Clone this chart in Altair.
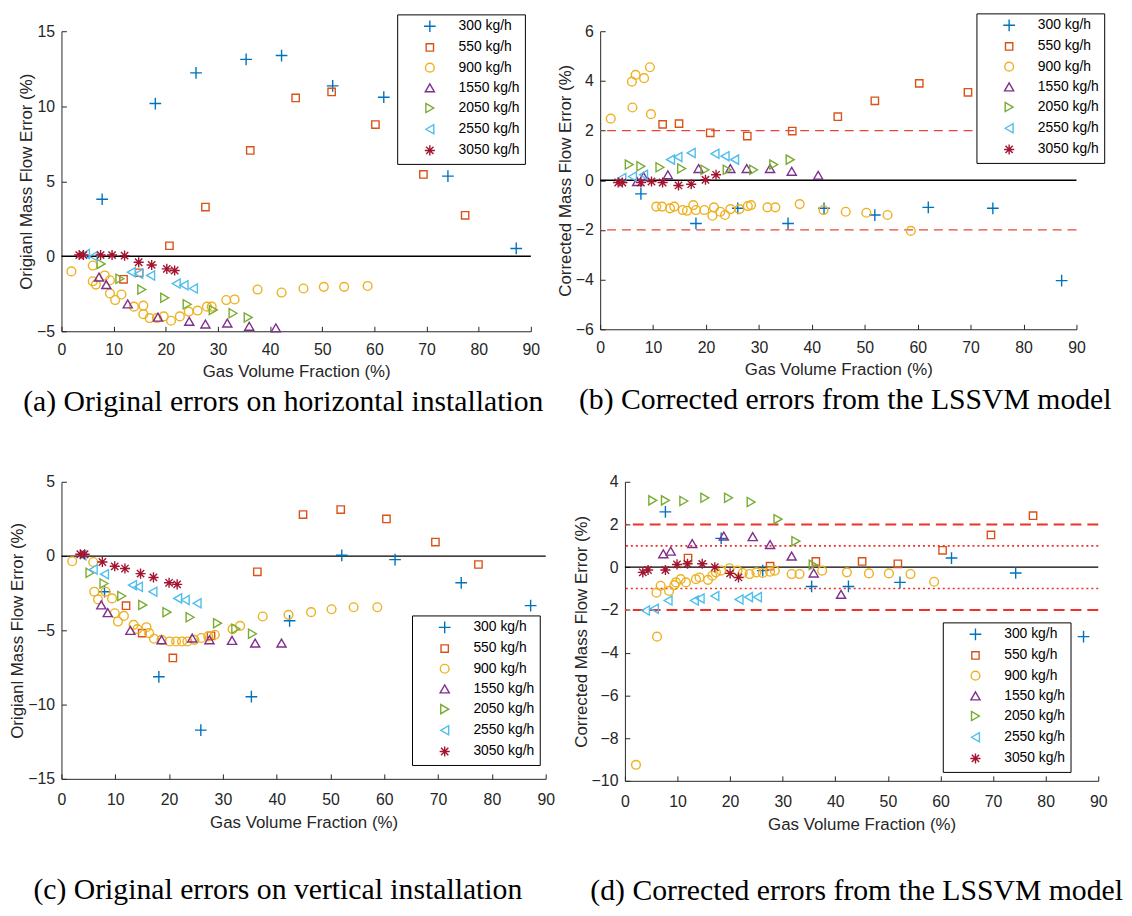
import altair as alt
import pandas as pd

# ---------------- series definitions ----------------
SERIES = ["300 kg/h", "550 kg/h", "900 kg/h", "1550 kg/h", "2050 kg/h", "2550 kg/h", "3050 kg/h"]
COLORS = ["#0072BD", "#D95319", "#EDB120", "#7E2F8E", "#77AC30", "#4DBEEE", "#A2142F"]
PLUS = "M-1,0L1,0M0,-1L0,1"
STAR = "M-1,0L1,0M0,-1L0,1M-0.72,-0.72L0.72,0.72M-0.72,0.72L0.72,-0.72"
SHAPES = [PLUS, "square", "circle", "triangle-up", "triangle-right", "triangle-left", STAR]
SIZES = [140, 55, 78, 85, 85, 85, 105]
XTICKS = [0, 10, 20, 30, 40, 50, 60, 70, 80, 90]

# ---------------- (a) original errors, horizontal ----------------
A300_X = [7.8, 18.0, 25.8, 35.4, 42.2, 52.0, 61.8, 74.1, 87.2]
A300_Y = [3.8, 10.18, 12.22, 13.12, 13.38, 11.36, 10.6, 5.34, 0.52]
A550_X = [11.9, 14.9, 20.7, 27.6, 36.2, 44.9, 51.8, 60.2, 69.4, 77.4]
A550_Y = [-1.54, -1.1, 0.70, 3.28, 7.05, 10.55, 10.95, 8.78, 5.45, 2.73]
A900_X = [1.9, 6.0, 6.0, 6.6, 8.3, 9.3, 9.3, 10.3, 11.5, 13.9, 15.7, 15.7, 16.9, 18.3, 19.6,
          21.0, 22.7, 24.4, 26.1, 27.9, 28.8, 31.6, 33.2, 37.6, 42.2, 46.4, 50.3, 54.2, 58.7]
A900_Y = [-1.01, -0.62, -1.67, -1.89, -1.28, -1.6, -2.48, -2.92, -2.55, -3.36, -3.29, -3.86, -4.12, -4.12, -4.01,
          -4.30, -4.01, -3.69, -3.62, -3.36, -3.36, -2.92, -2.88, -2.22, -2.42, -2.15, -2.04, -2.04, -1.98]
A1550_X = [7.2, 8.6, 12.7, 18.5, 24.5, 27.6, 31.8, 36.0, 41.1]
A1550_Y = [-1.39, -1.89, -3.18, -4.06, -4.34, -4.52, -4.45, -4.67, -4.78]
A2050_X = [7.6, 11.2, 15.4, 19.8, 24.1, 29.1, 32.9, 35.8]
A2050_Y = [-0.51, -1.50, -2.22, -2.77, -3.20, -3.58, -3.80, -4.08]
A2550_X = [4.6, 6.1, 13.4, 14.8, 17.1, 22.0, 23.5, 25.3]
A2550_Y = [0.15, 0.0, -1.06, -1.17, -1.28, -1.82, -1.93, -2.15]
A3050_X = [3.4, 4.2, 7.5, 9.7, 12.1, 14.8, 17.3, 20.2, 21.7]
A3050_Y = [0.08, 0.08, 0.08, 0.08, 0.04, -0.40, -0.58, -0.84, -0.95]

# ---------------- (b) corrected errors, horizontal ----------------
B300_X = [7.7, 18.1, 26.0, 35.5, 42.3, 51.9, 62.0, 74.2, 87.2]
B300_Y = [-0.55, -1.74, -1.13, -1.74, -1.13, -1.40, -1.09, -1.13, -4.04]
B550_X = [11.8, 14.9, 20.8, 27.8, 36.3, 44.9, 51.9, 60.3, 69.5, 77.7]
B550_Y = [2.25, 2.28, 1.91, 1.78, 1.98, 2.56, 3.20, 3.90, 3.54, 0.93]
B900_X = [2.0, 6.0, 6.1, 6.7, 8.3, 9.4, 9.6, 10.6, 11.7, 13.2, 14.0, 15.6, 16.4, 17.6, 18.1, 19.7,
          21.2, 21.5, 22.7, 23.6, 24.6, 26.3, 27.9, 28.5, 31.6, 33.1, 37.7, 42.2, 46.4, 50.3, 54.3, 58.7]
B900_Y = [2.48, 3.97, 2.93, 4.24, 4.11, 4.55, 2.66, -1.06, -1.06, -1.13, -1.06, -1.20, -1.23, -1.00, -1.20, -1.20,
          -1.43, -1.09, -1.27, -1.40, -1.16, -1.16, -1.04, -1.00, -1.09, -1.09, -0.96, -1.20, -1.27, -1.31, -1.40, -2.04]
B1550_X = [7.0, 8.2, 12.8, 18.6, 24.6, 27.7, 32.1, 36.2, 41.2]
B1550_Y = [-0.05, 0.15, 0.22, 0.47, 0.47, 0.47, 0.47, 0.36, 0.20]
B2050_X = [5.5, 7.7, 11.3, 15.4, 19.8, 24.0, 29.0, 32.8, 35.9]
B2050_Y = [0.63, 0.56, 0.52, 0.47, 0.42, 0.42, 0.42, 0.63, 0.83]
B2550_X = [4.1, 6.1, 8.2, 13.3, 14.7, 17.2, 21.7, 23.6, 25.4]
B2550_Y = [0.09, 0.15, 0.22, 0.83, 0.94, 1.10, 1.07, 0.97, 0.83]
B3050_X = [3.4, 4.2, 7.7, 9.7, 11.8, 14.8, 17.2, 19.9, 21.9]
B3050_Y = [-0.09, -0.09, -0.09, -0.05, -0.09, -0.21, -0.16, 0.02, 0.22]

# ---------------- (c) original errors, vertical ----------------
C300_X = [8.0, 18.1, 25.9, 35.3, 42.4, 52.1, 62.0, 74.3, 87.2]
C300_Y = [-2.40, -8.13, -11.72, -9.47, -4.36, 0.05, -0.24, -1.80, -3.34]
C550_X = [12.0, 15.0, 20.7, 27.8, 36.4, 44.9, 51.9, 60.4, 69.5, 77.5]
C550_Y = [-3.34, -5.19, -6.86, -5.37, -1.06, 2.79, 3.13, 2.50, 0.94, -0.57]
C900_X = [2.0, 5.9, 6.1, 6.8, 8.2, 9.4, 9.9, 10.5, 11.6, 13.4, 14.1, 15.8, 16.3, 17.2, 18.6, 20.1,
          21.3, 22.4, 23.4, 24.7, 26.0, 27.3, 28.5, 31.8, 33.2, 37.4, 42.2, 46.4, 50.2, 54.3, 58.7]
C900_Y = [-0.35, -0.40, -2.40, -2.92, -2.40, -2.85, -3.85, -4.41, -4.03, -4.63, -4.92, -4.79, -5.19, -5.57, -5.64, -5.75,
          -5.75, -5.75, -5.75, -5.64, -5.52, -5.41, -5.30, -4.92, -4.70, -4.07, -3.96, -3.78, -3.58, -3.45, -3.45]
C1550_X = [7.4, 8.6, 12.8, 18.6, 24.3, 27.5, 31.7, 36.0, 40.9]
C1550_Y = [-3.29, -3.81, -5.01, -5.64, -5.52, -5.64, -5.68, -5.86, -5.86]
C2050_X = [5.3, 7.9, 11.2, 15.1, 19.6, 23.9, 29.0, 32.4, 35.5]
C2050_Y = [-1.13, -1.85, -2.69, -3.29, -3.78, -4.12, -4.52, -4.90, -5.23]
C2550_X = [3.8, 5.9, 8.0, 13.2, 14.3, 17.0, 21.6, 23.0, 25.2]
C2550_Y = [0.05, -0.91, -1.22, -1.96, -2.07, -2.40, -2.85, -2.96, -3.18]
C3050_X = [3.5, 4.3, 7.6, 9.9, 11.8, 14.7, 17.1, 20.0, 21.5]
C3050_Y = [0.12, 0.12, -0.40, -0.69, -0.84, -1.18, -1.44, -1.80, -1.91]

# ---------------- (d) corrected errors, vertical ----------------
D300_X = [7.7, 18.3, 26.2, 35.5, 42.5, 52.3, 62.1, 74.3, 87.2]
D300_Y = [2.59, 1.35, -0.16, -0.90, -0.90, -0.71, 0.43, -0.27, -3.25]
D550_X = [12.0, 27.6, 36.3, 45.1, 51.9, 60.4, 69.6, 77.6]
D550_Y = [0.43, 0.05, 0.27, 0.27, 0.16, 0.79, 1.51, 2.41]
D900_X = [2.1, 6.1, 6.0, 6.8, 8.4, 9.4, 9.7, 10.6, 11.6, 13.5, 14.2, 15.8, 16.6, 17.3, 18.3, 19.9,
          21.4, 22.4, 23.7, 25.0, 26.2, 27.6, 28.5, 31.7, 33.2, 37.5, 42.2, 46.4, 50.2, 54.3, 58.8]
D900_Y = [-9.25, -3.25, -1.19, -0.87, -1.11, -0.84, -0.71, -0.56, -0.71, -0.56, -0.48, -0.59, -0.40, -0.24, -0.16, -0.05,
          -0.16, -0.27, -0.32, -0.24, -0.27, -0.21, -0.16, -0.32, -0.32, -0.16, -0.24, -0.29, -0.29, -0.32, -0.68]
D1550_X = [7.3, 8.7, 12.8, 18.8, 24.3, 27.6, 31.7, 35.9, 41.1]
D1550_Y = [0.63, 0.75, 1.11, 1.46, 1.43, 1.06, 0.52, -0.27, -1.27]
D2050_X = [5.3, 7.7, 11.2, 15.2, 19.7, 24.0, 29.1, 32.5, 35.8]
D2050_Y = [3.13, 3.13, 3.10, 3.25, 3.25, 3.05, 2.25, 1.22, 0.11]
D2550_X = [3.9, 5.6, 8.2, 13.2, 14.3, 17.1, 21.7, 23.5, 25.2]
D2550_Y = [-2.03, -1.94, -1.56, -1.56, -1.46, -1.35, -1.51, -1.40, -1.40]
D3050_X = [3.4, 4.4, 7.7, 9.9, 11.9, 14.7, 17.1, 20.0, 21.6]
D3050_Y = [-0.24, -0.13, -0.13, 0.13, 0.16, 0.16, 0.0, -0.29, -0.48]

# reference lines
ZERO = [0]
B_LIMITS = [2, -2]
D_LIMITS_2 = [2, -2]
D_LIMITS_1 = [1, -1]

CAPTIONS = ["(a) Original errors on horizontal installation",
            "(b) Corrected errors from the LSSVM model",
            "(c) Original errors on vertical installation",
            "(d) Corrected errors from the LSSVM model"]

FONT = "Liberation Sans"
SERIF = "Liberation Serif"
AX = "#262626"


def build_df(xs_list, ys_list):
    rows = []
    for name, xs, ys in zip(SERIES, xs_list, ys_list):
        for x, y in zip(xs, ys):
            rows.append({"series": name, "gvf": x, "err": y})
    return pd.DataFrame(rows)


def axis(values, title, is_x, xpad=15):
    return alt.Axis(
        values=values, title=title, grid=False,
        domainColor=AX, domainWidth=1, tickColor=AX, tickWidth=1,
        tickSize={"expr": "-5"},
        labelFont=FONT, labelFontSize=16, labelColor=AX, labelFlush=False,
        labelPadding=xpad if is_x else 12,
        titleFont=FONT, titleFontSize=17, titleFontWeight="normal", titleColor=AX,
        titlePadding=7 if is_x else 1,
    )


def panel(df, ydom, yticks, ytitle, caption, w, h, lx, ly, cap_dx, cap_off, xpad, refs):
    xenc = alt.X("gvf:Q", scale=alt.Scale(domain=[0, 90], nice=False, zero=False),
                 axis=axis(XTICKS, "Gas Volume Fraction (%)", True, xpad))
    yenc = alt.Y("err:Q", scale=alt.Scale(domain=ydom, nice=False, zero=False),
                 axis=axis(yticks, ytitle, False))
    leg = alt.Legend(orient="none", legendX=lx, legendY=ly, title=None,
                     strokeColor="black", fillColor="white", padding=5, rowPadding=5.4,
                     symbolOffset=21, labelOffset=22, labelFont=FONT, labelFontSize=14,
                     labelColor="black", symbolStrokeWidth=1.4, cornerRadius=0)
    layers = []
    for vals, color, dash, sw in refs:
        rdf = pd.DataFrame({"err": vals})
        kw = dict(color=color, strokeWidth=sw)
        if dash:
            kw["strokeDash"] = dash
        layers.append(alt.Chart(rdf).mark_rule(**kw).encode(y=yenc))
    pts = alt.Chart(df).mark_point(filled=False, opacity=1, strokeWidth=1.4).encode(
        x=xenc, y=yenc,
        color=alt.Color("series:N", scale=alt.Scale(domain=SERIES, range=COLORS), legend=leg),
        shape=alt.Shape("series:N", scale=alt.Scale(domain=SERIES, range=SHAPES), legend=leg),
        size=alt.Size("series:N", scale=alt.Scale(type="ordinal", domain=SERIES, range=SIZES), legend=leg),
    )
    layers.append(pts)
    return alt.layer(*layers).properties(
        width=w, height=h,
        title=alt.TitleParams(caption, orient="bottom", anchor="middle", frame="group",
                              font=SERIF, fontSize=30, fontWeight="normal", color="black",
                              offset=cap_off, dx=cap_dx),
    )


df_a = build_df([A300_X, A550_X, A900_X, A1550_X, A2050_X, A2550_X, A3050_X],
                [A300_Y, A550_Y, A900_Y, A1550_Y, A2050_Y, A2550_Y, A3050_Y])
df_b = build_df([B300_X, B550_X, B900_X, B1550_X, B2050_X, B2550_X, B3050_X],
                [B300_Y, B550_Y, B900_Y, B1550_Y, B2050_Y, B2550_Y, B3050_Y])
df_c = build_df([C300_X, C550_X, C900_X, C1550_X, C2050_X, C2550_X, C3050_X],
                [C300_Y, C550_Y, C900_Y, C1550_Y, C2050_Y, C2550_Y, C3050_Y])
df_d = build_df([D300_X, D550_X, D900_X, D1550_X, D2050_X, D2550_X, D3050_X],
                [D300_Y, D550_Y, D900_Y, D1550_Y, D2050_Y, D2550_Y, D3050_Y])

zero_ref = (ZERO, "black", None, 1.3)

pa = panel(df_a, [-5, 15], [-5, 0, 5, 10, 15], "Origianl Mass Flow Error (%)", CAPTIONS[0],
           474, 303, 339, -17, -13, 8, 15, [zero_ref])
pb = panel(df_b, [-6, 6], [-6, -4, -2, 0, 2, 4, 6], "Corrected Mass Flow Error (%)", CAPTIONS[1],
           481, 301, 380, -18, 7, 8, 15,
           [(B_LIMITS, "#E8453C", [9, 6], 1.3), zero_ref])
pc = panel(df_c, [-15, 5], [-15, -10, -5, 0, 5], "Origianl Mass Flow Error (%)", CAPTIONS[2],
           489, 300, 354, 135, -26, 45, 18, [zero_ref])
pd_ = panel(df_d, [-10, 4], [-10, -8, -6, -4, -2, 0, 2, 4], "Corrected Mass Flow Error (%)", CAPTIONS[3],
            478, 302, 321, 142, -5, 44, 18,
            [(D_LIMITS_2, "#F0302A", [11, 6], 2.0), (D_LIMITS_1, "#F0302A", [2, 3], 1.6), zero_ref])

indep = dict(x="independent", y="independent", color="independent", shape="independent", size="independent")
indep_leg = dict(color="independent", shape="independent", size="independent")

row1 = alt.hconcat(pa, pb, spacing=70, bounds="flush").resolve_scale(**indep).resolve_legend(**indep_leg)
row2 = alt.hconcat(pc, pd_, spacing=80, bounds="flush").resolve_scale(**indep).resolve_legend(**indep_leg)

chart = (
    alt.vconcat(row1, row2, spacing=455, bounds="flush")
    .resolve_scale(**indep)
    .resolve_legend(**indep_leg)
    .properties(padding=0, background="white")
    .configure_view(stroke=None)
)

chart.save("out.html", embed_options={"renderer": "svg", "actions": False})
